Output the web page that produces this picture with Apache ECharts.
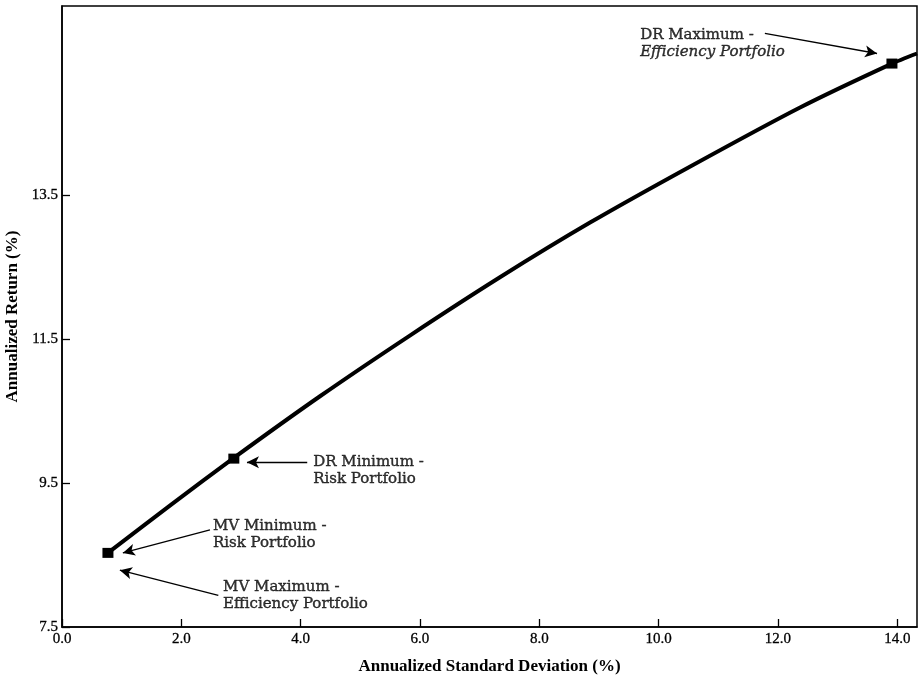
<!DOCTYPE html>
<html>
<head>
<meta charset="utf-8">
<script src="https://cdn.jsdelivr.net/npm/echarts@6/dist/echarts.min.js"></script>
<style>
html,body{margin:0;padding:0;background:#fff;}
#chart{width:921px;height:684px;}
</style>
</head>
<body>
<div id="chart"></div>
<script>
// Frontier curve (annualized std dev %, annualized return %)
var sdCurve  = [0.77, 1.83, 2.88, 4.33, 5.83, 7.34, 8.85, 10.53, 12.37, 13.91, 14.33];
var retCurve = [8.53, 9.20, 9.85, 10.71, 11.55, 12.36, 13.12, 13.90, 14.72, 15.33, 15.47];

// Highlighted portfolios
var portfolioNames = ['MV Minimum/Maximum', 'DR Minimum', 'DR Maximum'];
var portfolioSd    = [0.77, 2.88, 13.91];
var portfolioRet   = [8.53, 9.84, 15.33];

// Annotation labels
var noteLine1 = ['DR Maximum -', 'DR Minimum -', 'MV Minimum -', 'MV Maximum -'];
var noteLine2 = ['Efficiency Portfolio', 'Risk Portfolio', 'Risk Portfolio', 'Efficiency Portfolio'];
var noteItalic = [true, false, false, false];
var noteX = [9.69, 4.21, 2.53, 2.70];
var noteY = [15.61, 9.68, 8.78, 7.94];
// Arrow tail / head (data coords)
var arrowFromX = [11.78, 4.11, 2.48, 2.62];
var arrowFromY = [15.75, 9.79, 8.85, 7.94];
var arrowToX   = [13.66, 3.10, 1.02, 0.97];
var arrowToY   = [15.47, 9.79, 8.53, 8.29];
var arrowCurve = [-0.12, 0, -0.05, 0.03];

// Axis ticks
var xTicks = [0, 2, 4, 6, 8, 10, 12, 14];
var yTicks = [7.5, 9.5, 11.5, 13.5];

var serif = '"Liberation Serif", "DejaVu Serif", serif';
var noteFont = '"DejaVu Serif", serif';

var curveData = sdCurve.map(function (v, i) { return [v, retCurve[i]]; });
var pointData = portfolioSd.map(function (v, i) { return { name: portfolioNames[i], value: [v, portfolioRet[i]] }; });
var noteData = noteX.map(function (v, i) {
  return {
    value: [v, noteY[i]],
    label: {
      formatter: noteItalic[i] ? '{a|' + noteLine1[i] + '}\n{i|' + noteLine2[i] + '}' : '{a|' + noteLine1[i] + '}\n{a|' + noteLine2[i] + '}'
    }
  };
});
var arrowData = arrowFromX.map(function (v, i) {
  return [
    { coord: [v, arrowFromY[i]], lineStyle: { curveness: arrowCurve[i] } },
    { coord: [arrowToX[i], arrowToY[i]] }
  ];
});

var chart = echarts.init(document.getElementById('chart'));
chart.setOption({
  backgroundColor: '#fff',
  animation: false,
  grid: { left: 62, right: 4, top: 6, bottom: 57, outerBoundsMode: 'none', containLabel: false,
    show: true, borderColor: '#000', borderWidth: 1.5, backgroundColor: 'transparent' },
  xAxis: {
    type: 'value', min: 0, max: 14.33, interval: 2,
    name: 'Annualized Standard Deviation (%)', nameLocation: 'middle', nameGap: 31,
    nameTextStyle: { fontFamily: serif, fontWeight: 'bold', fontSize: 17, color: '#000' },
    axisLine: { show: true, lineStyle: { color: '#000', width: 1.5 } },
    axisTick: { show: true, inside: true, length: 8, lineStyle: { color: '#000', width: 1.3 }, customValues: xTicks },
    axisLabel: { color: '#000', fontFamily: serif, fontSize: 15, margin: 5, customValues: xTicks,
      textBorderColor: '#000', textBorderWidth: 0.3,
      formatter: function (v) { return v.toFixed(1); } },
    splitLine: { show: false }
  },
  yAxis: {
    type: 'value', min: 7.5, max: 16.13, interval: 2,
    name: 'Annualized Return (%)', nameLocation: 'middle', nameGap: 38, nameRotate: 90,
    nameTextStyle: { fontFamily: serif, fontWeight: 'bold', fontSize: 17, color: '#000' },
    axisLine: { show: true, lineStyle: { color: '#000', width: 1.5 } },
    axisTick: { show: true, inside: true, length: 8, lineStyle: { color: '#000', width: 1.3 }, customValues: yTicks },
    axisLabel: { color: '#000', fontFamily: serif, fontSize: 15, margin: 4, customValues: yTicks,
      textBorderColor: '#000', textBorderWidth: 0.3,
      formatter: function (v) { return v.toFixed(1); } },
    splitLine: { show: false }
  },
  series: [
    {
      name: 'Frontier', type: 'line', data: curveData, smooth: 0.2,
      showSymbol: false, symbol: 'none',
      lineStyle: { color: '#000', width: 4 }, z: 3
    },
    {
      name: 'Portfolios', type: 'scatter', data: pointData, symbol: 'rect', symbolSize: [11, 10],
      itemStyle: { color: '#000', opacity: 1 }, z: 4
    },
    {
      name: 'Notes', type: 'scatter', data: noteData, symbolSize: 0, silent: true,
      itemStyle: { color: 'transparent' },
      label: {
        show: true, position: 'right', distance: 0, align: 'left', verticalAlign: 'middle',
        color: '#000', fontFamily: noteFont, fontSize: 15, lineHeight: 17,
        rich: {
          a: { fontFamily: noteFont, fontSize: 15, lineHeight: 17, color: '#000', textBorderColor: '#000', textBorderWidth: 0.4 },
          i: { fontFamily: noteFont, fontSize: 15, lineHeight: 17, color: '#000', fontStyle: 'italic', textBorderColor: '#000', textBorderWidth: 0.4 }
        }
      },
      markLine: {
        silent: true, symbol: ['none', 'arrow'], symbolSize: [9, 12], animation: false,
        label: { show: false },
        lineStyle: { color: '#000', width: 1.3, type: 'solid', opacity: 1 },
        emphasis: { disabled: true },
        data: arrowData
      }
    }
  ]
});
</script>
</body>
</html>
